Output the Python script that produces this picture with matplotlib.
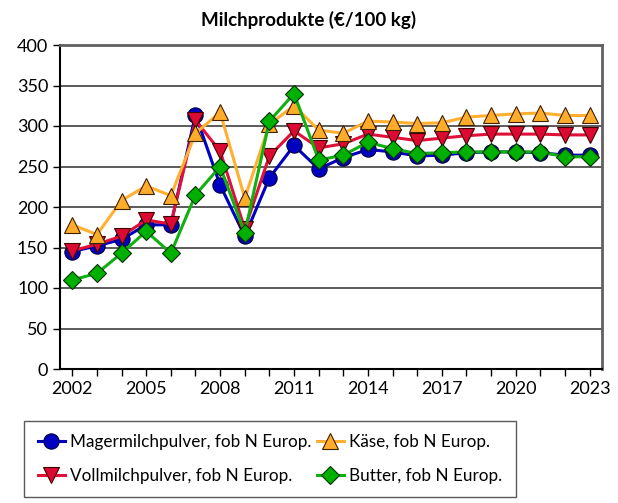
import numpy as np
import matplotlib.pyplot as plt
from matplotlib.ticker import MultipleLocator

plt.rcParams['font.family'] = ['Lato', 'DejaVu Sans']

years = np.arange(2002, 2024)

# values (EUR/100 kg)
mager = [145, 152, 160, 178, 178, 314, 227, 164, 236, 276, 247, 261, 271, 268, 263, 264, 267, 268, 268, 267, 264, 264]
voll = [146, 154, 164, 184, 179, 307, 269, 173, 263, 294, 273, 278, 290, 286, 282, 285, 288, 290, 290, 290, 289, 289]
kaese = [178, 166, 208, 226, 214, 291, 317, 211, 302, 325, 295, 291, 306, 305, 303, 304, 311, 313, 315, 316, 313, 313]
butter = [110, 118, 143, 170, 143, 215, 250, 168, 306, 340, 258, 264, 280, 272, 266, 267, 268, 268, 268, 268, 262, 262]

fig = plt.figure(figsize=(6.18, 5.03), dpi=100)
ax = fig.add_axes([60/618, 1 - 369/503, 542/618, 324/503])

l1, = ax.plot(years, mager, color='#0000c0', lw=2.2, marker='o', ms=11,
              mfc='#0000c0', mec='#000040', mew=0.8, zorder=3,
              label='Magermilchpulver, fob N Europ.')
l2, = ax.plot(years, voll, color='#e0103a', lw=2.2, marker='v', ms=12,
              mfc='#dc0a32', mec='#400000', mew=0.8, zorder=4,
              label='Vollmilchpulver, fob N Europ.')
l3, = ax.plot(years, kaese, color='#ffb030', lw=2.2, marker='^', ms=12,
              mfc='#ffac2a', mec='#402000', mew=0.8, zorder=5,
              label='Käse, fob N Europ.')
l4, = ax.plot(years, butter, color='#10b010', lw=2.2, marker='D', ms=9,
              mfc='#00b000', mec='#003000', mew=0.8, zorder=6,
              label='Butter, fob N Europ.')

ax.set_ylim(0, 400)
ax.set_xlim(2001.5, 2023.5)
ax.yaxis.set_major_locator(MultipleLocator(50))
ax.set_xticks(np.arange(2002, 2024, 3))
ax.xaxis.set_minor_locator(MultipleLocator(1))
ax.tick_params(axis='both', labelsize=13, direction='out', length=5, width=1)
ax.tick_params(axis='x', which='minor', length=5, width=1)
ax.grid(axis='y', color='#404040', lw=1.2)
ax.set_axisbelow(True)
for s in ['top', 'right']:
    ax.spines[s].set_color('#606060')
    ax.spines[s].set_linewidth(2)
for s in ['left', 'bottom']:
    ax.spines[s].set_linewidth(1.5)

fig.text(0.5, 1 - 20/503, 'Milchprodukte (€/100 kg)', ha='center', va='center',
         fontsize=13.5, fontweight='bold')

leg = fig.legend(handles=[l1, l2, l3, l4], ncol=2, loc='center',
                 bbox_to_anchor=(270/618, 1 - 459/503), fontsize=12.3,
                 frameon=True, fancybox=False, edgecolor='#303030',
                 handlelength=1.6, columnspacing=0.3, labelspacing=1.0,
                 borderpad=0.8, handletextpad=0.3)
leg.get_frame().set_linewidth(1)

fig.savefig('out.png', dpi=100)
